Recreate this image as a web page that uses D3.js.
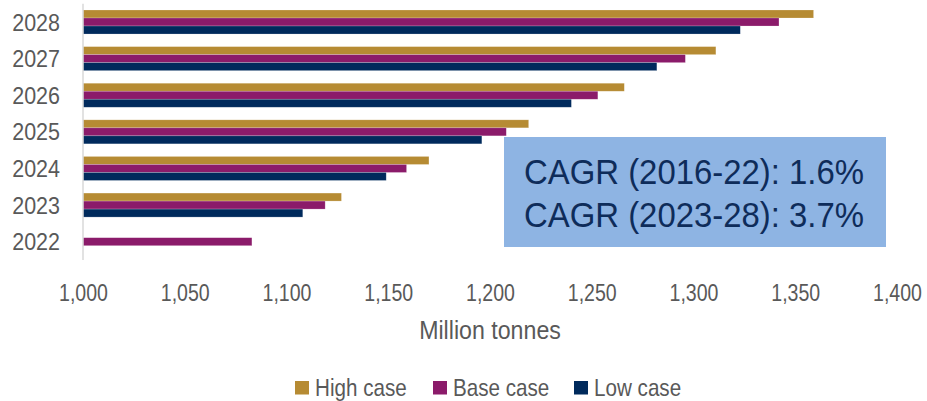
<!DOCTYPE html>
<html>
<head>
<meta charset="utf-8">
<script src="https://cdn.jsdelivr.net/npm/d3@7"></script>
<style>
  html, body { margin: 0; padding: 0; background: #fff; }
  svg { display: block; }
  text { font-family: 'Liberation Sans', Arial, sans-serif; }
</style>
</head>
<body>
<svg id="chart" width="927" height="401"></svg>
<script>
// ---- data ----
const years = ["2022", "2023", "2024", "2025", "2026", "2027", "2028"];
const seriesNames = ["High case", "Base case", "Low case"];
const highCase = [null, 1127, 1170, 1219, 1266, 1311, 1359];
const baseCase = [1083, 1119, 1159, 1208, 1253, 1296, 1342];
const lowCase  = [null, 1108, 1149, 1196, 1240, 1282, 1323];
const xTicks = [1000, 1050, 1100, 1150, 1200, 1250, 1300, 1350, 1400];
const axisTitle = "Million tonnes";
const cagrLines = ["CAGR (2016-22): 1.6%", "CAGR (2023-28): 3.7%"];

const colors = { "High case": "#B68B33", "Base case": "#8B1B6A", "Low case": "#002A5C" };
const seriesValues = { "High case": highCase, "Base case": baseCase, "Low case": lowCase };

const svg = d3.select("#chart");
const plotLeft = 83, plotRight = 897, plotTop = 3.7, plotBottom = 260;
const textGray = "#595959";

const x = d3.scaleLinear().domain([1000, 1400]).range([plotLeft, plotRight]);
const y = d3.scaleBand().domain(years.slice().reverse()).range([plotTop, plotBottom])
  .paddingInner(0.344).paddingOuter(0.172);
const ySub = d3.scaleBand().domain(seriesNames).range([0, y.bandwidth()]);

const rows = [];
years.forEach((yr, i) => {
  seriesNames.forEach(s => {
    const v = seriesValues[s][i];
    if (v != null) rows.push({ year: yr, series: s, value: v });
  });
});

svg.append("g").selectAll("rect").data(rows).join("rect")
  .attr("x", x(1000))
  .attr("y", d => y(d.year) + ySub(d.series))
  .attr("width", d => x(d.value) - x(1000))
  .attr("height", ySub.bandwidth())
  .attr("fill", d => colors[d.series])
  .attr("stroke", "#ffffff")
  .attr("stroke-opacity", 0.35)
  .attr("stroke-width", 0.6);

// vertical axis line
svg.append("line")
  .attr("x1", plotLeft).attr("x2", plotLeft)
  .attr("y1", plotTop).attr("y2", plotBottom)
  .attr("stroke", "#D9D9D9").attr("stroke-width", 1.5);

// y labels (condensed via horizontal scale)
svg.append("g").selectAll("text").data(years).join("text")
  .attr("transform", d => `translate(60, ${y(d) + y.bandwidth() / 2 + 8.6}) scale(0.895, 1)`)
  .attr("text-anchor", "end")
  .attr("font-size", 24)
  .attr("fill", textGray)
  .text(d => d);

// x tick labels via axis
const fmt = d3.format(",");
const xAxis = d3.axisBottom(x).tickValues(xTicks).tickFormat(fmt).tickSize(0).tickPadding(0);
const gx = svg.append("g").attr("transform", `translate(0, ${plotBottom})`).call(xAxis);
gx.select(".domain").remove();
gx.selectAll("text")
  .attr("y", null).attr("dy", null).attr("x", null)
  .attr("transform", "translate(0, 41) scale(0.815, 1)")
  .attr("font-size", 24)
  .attr("fill", textGray)
  .style("font-family", "'Liberation Sans', Arial, sans-serif");

// axis title
svg.append("text")
  .attr("transform", `translate(${(plotLeft + plotRight) / 2}, 338.5) scale(0.92, 1)`)
  .attr("text-anchor", "middle")
  .attr("font-size", 25.2)
  .attr("fill", textGray)
  .text(axisTitle);

// CAGR box
svg.append("rect")
  .attr("x", 504).attr("y", 137).attr("width", 382).attr("height", 110)
  .attr("fill", "#8EB4E3");
svg.append("g").selectAll("text").data(cagrLines).join("text")
  .attr("transform", (d, i) => `translate(524, ${183.5 + i * 43.5}) scale(0.94, 1)`)
  .attr("font-size", 35)
  .attr("fill", "#0E2C5A")
  .text(d => d);

// legend
const legendX = [295, 433, 574];
const lg = svg.append("g").selectAll("g").data(seriesNames).join("g")
  .attr("transform", (d, i) => `translate(${legendX[i]}, 381)`);
lg.append("rect").attr("width", 14).attr("height", 13.5).attr("fill", d => colors[d]);
lg.append("text")
  .attr("transform", "translate(20, 14.8) scale(0.86, 1)")
  .attr("font-size", 24).attr("fill", textGray)
  .text(d => d);
</script>
</body>
</html>
